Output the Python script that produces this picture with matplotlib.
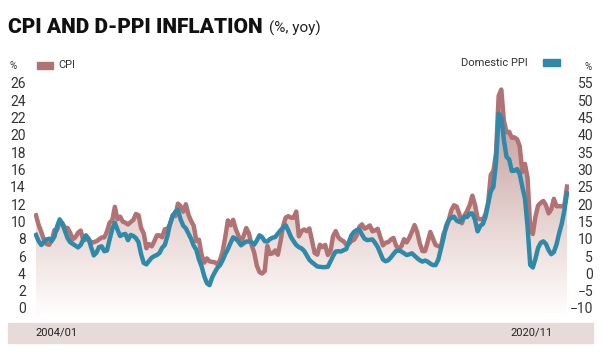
import numpy as np
import matplotlib
matplotlib.use('Agg')
import matplotlib.pyplot as plt
from matplotlib.colors import LinearSegmentedColormap
from matplotlib.patches import Rectangle

plt.rcParams['font.family'] = ['Roboto', 'DejaVu Sans']

## monthly yoy inflation, 2004/01 .. 2020/11
cpi = [10.7, 9.6, 8.8, 7.9, 7.4, 7.3, 7.8, 9.0, 9.0, 9.9, 9.8, 9.3,
       9.24, 8.69, 7.94, 8.18, 8.70, 8.95, 7.82, 7.91, 7.99, 7.52, 7.61, 7.72,
       7.93, 8.15, 8.16, 8.83, 9.86, 10.12, 11.69, 10.26, 10.55, 9.98, 9.86, 9.65,
       9.93, 10.16, 10.86, 10.72, 9.23, 8.60, 6.90, 7.39, 7.12, 7.70, 8.40, 8.39,
       8.17, 9.10, 9.15, 9.66, 10.74, 10.61, 12.06, 11.77, 11.13, 11.99, 10.76, 10.06,
       9.50, 7.73, 7.89, 6.13, 5.24, 5.73, 5.39, 5.33, 5.27, 5.08, 5.53, 6.53,
       8.19, 10.13, 9.56, 10.19, 9.10, 8.37, 7.58, 8.33, 9.24, 8.62, 7.29, 6.40,
       4.90, 4.16, 3.99, 4.26, 7.17, 6.24, 6.31, 6.65, 6.15, 7.66, 9.48, 10.45,
       10.61, 10.43, 10.43, 11.14, 8.28, 8.87, 9.07, 8.88, 9.19, 7.80, 6.37, 6.16,
       7.31, 7.03, 7.29, 6.13, 6.51, 8.30, 8.88, 8.17, 7.88, 7.71, 7.32, 7.40,
       7.75, 7.89, 8.39, 9.38, 9.66, 9.16, 9.32, 9.54, 8.86, 8.96, 9.15, 8.17,
       7.24, 7.55, 7.61, 7.91, 8.09, 7.20, 6.81, 7.14, 7.95, 7.58, 8.10, 8.81,
       9.58, 8.78, 7.46, 6.57, 6.58, 7.64, 8.79, 8.05, 7.28, 7.16, 7.00, 8.53,
       9.22, 10.13, 11.29, 11.87, 11.72, 10.90, 9.79, 10.68, 11.20, 11.90, 12.98, 11.92,
       10.35, 10.26, 10.23, 10.85, 12.15, 15.39, 15.85, 17.90, 24.52, 25.24, 21.62, 20.30,
       20.35, 19.67, 19.71, 19.50, 18.71, 15.72, 16.65, 15.01, 9.26, 8.55, 10.56, 11.84,
       12.15, 12.37, 11.86, 10.94, 11.39, 12.62, 11.76, 11.77, 11.75, 11.89, 14.03]

dppi = [11.1, 9.3, 8.2, 9.0, 9.8, 10.0, 9.4, 10.6, 13.5, 15.6, 14.4, 12.3,
        10.2, 9.0, 8.5, 8.0, 7.5, 8.2, 9.8, 11.0, 10.0, 7.5, 5.2, 6.0,
        7.6, 7.8, 6.4, 6.6, 9.8, 12.8, 14.6, 12.6, 10.8, 11.2, 11.4, 9.6,
        11.1, 10.8, 10.2, 9.0, 5.5, 3.0, 2.6, 3.6, 4.5, 5.0, 5.3, 5.9,
        7.4, 8.2, 10.8, 14.4, 16.6, 17.8, 18.3, 15.6, 13.8, 13.0, 11.5, 10.0,
        8.0, 6.8, 4.0, 2.0, -0.8, -2.8, -3.4, -1.2, 0.3, 1.6, 2.4, 3.8,
        5.6, 7.0, 8.8, 10.4, 10.0, 9.2, 8.1, 8.7, 9.2, 9.2, 9.0, 8.3,
        9.5, 11.0, 10.5, 9.3, 9.2, 9.9, 10.3, 10.5, 11.5, 12.4, 13.2, 13.9,
        12.3, 10.5, 9.3, 8.2, 7.6, 7.2, 6.5, 5.2, 3.9, 3.2, 2.6, 2.0,
        1.9, 1.8, 1.8, 1.9, 3.4, 5.0, 6.3, 6.4, 6.3, 6.7, 7.0, 9.0,
        11.0, 12.0, 12.5, 12.7, 11.2, 10.0, 9.6, 9.7, 9.8, 8.8, 7.6, 5.8,
        4.0, 3.5, 3.8, 4.6, 5.6, 6.5, 6.6, 6.3, 5.8, 5.3, 5.5, 5.8,
        5.1, 4.4, 3.8, 3.4, 3.7, 3.4, 2.8, 2.4, 2.4, 3.9, 7.0, 10.1,
        13.69, 15.36, 16.09, 16.37, 15.26, 14.87, 15.45, 16.34, 16.28, 17.28, 17.30, 15.47,
        12.14, 13.71, 14.28, 16.37, 20.16, 23.71, 25.00, 32.13, 46.15, 45.01, 38.54, 33.64,
        32.93, 29.59, 29.64, 30.12, 28.71, 25.04, 21.66, 13.45, 2.45, 1.70, 4.26, 7.36,
        8.84, 9.26, 8.50, 6.71, 5.53, 6.17, 8.33, 11.53, 14.33, 18.20, 23.11]

left_ticks = list(range(0, 27, 2))
right_ticks = list(range(-10, 56, 5))
date_labels = ['2004/01', '2020/11']

cpi_color = '#b07273'
ppi_color = '#2e8aa8'
text_color = '#333333'

W, H = 606, 360
fig = plt.figure(figsize=(W / 100, H / 100), dpi=100)

## plot area in pixels
ax = fig.add_axes([34 / W, 1 - 318 / H, (569 - 34) / W, (318 - 75) / H])
ax2 = ax.twinx()

x = np.arange(len(cpi))
cpi_arr = np.array(cpi)
ppi_arr = np.array(dppi)

lo, hi = -1.156, 26.92
ax.set_ylim(lo, hi)
ax2.set_ylim(-10 + 2.5 * lo, -10 + 2.5 * hi)
ax.set_xlim(-0.76, 202.76)

## gradient fill under both lines
top = np.maximum(cpi_arr, (ppi_arr + 10) / 2.5)
cmap = LinearSegmentedColormap.from_list('fill', [(1, 1, 1), (0.92, 0.86, 0.85), (0.82, 0.70, 0.69), (0.74, 0.58, 0.58)])
grad = np.linspace(0, 1, 256).reshape(-1, 1)
im = ax.imshow(grad, extent=[0, len(cpi) - 1, lo, hi], origin='lower', aspect='auto',
               cmap=cmap, zorder=1)
poly = ax.fill_between(x, lo, top, color='none', lw=0)
im.set_clip_path(poly.get_paths()[0], transform=ax.transData)

ax.plot(x, cpi_arr, color=cpi_color, lw=3.2, solid_joinstyle='round', zorder=3)
ax2.plot(x, ppi_arr, color=ppi_color, lw=3.2, solid_joinstyle='round', zorder=4)
ax2.patch.set_visible(False)

for a in (ax, ax2):
    for s in a.spines.values():
        s.set_visible(False)
    a.set_xticks([])
ax.set_yticks(left_ticks)
ax.tick_params(axis='y', length=0, pad=5.8, labelsize=10, labelcolor=text_color)
ax2.set_yticks(right_ticks)
ax2.tick_params(axis='y', length=0, pad=17.3, labelsize=10, labelcolor=text_color)
for lab in ax2.get_yticklabels():
    lab.set_horizontalalignment('right')

## bottom date band
fig.patches.append(Rectangle((8 / W, 1 - 343 / H), (593 - 8) / W, 20 / H,
                             transform=fig.transFigure, color='#e7dbd9', zorder=0))
fig.text(35 / W, 1 - 333 / H, date_labels[0], ha='left', va='center', fontsize=8, color='#222222')
fig.text(553 / W, 1 - 333 / H, date_labels[1], ha='right', va='center', fontsize=8, color='#222222')

## title
t = fig.text(8 / W, 1 - 33 / H, 'CPI AND D-PPI INFLATION', fontsize=15, fontweight='black',
             color='#111111', va='baseline')
fig.canvas.draw()
bb = t.get_window_extent()
fig.text(bb.x1 / W + 6 / W, 1 - 33 / H, '(%, yoy)', fontsize=11, color='#222222', va='baseline')

## legends
fig.text(10 / W, 1 - 66 / H, '%', fontsize=7, color=text_color, va='center')
fig.patches.append(Rectangle((37 / W, 1 - 69 / H), 16 / W, 7 / H, transform=fig.transFigure,
                             color=cpi_color))
fig.text(58 / W, 1 - 65 / H, 'CPI', fontsize=8, color=text_color, va='center')
fig.text(528 / W, 1 - 63 / H, 'Domestic PPI', fontsize=8, color=text_color, va='center', ha='right')
fig.patches.append(Rectangle((543 / W, 1 - 66 / H), 17 / W, 7 / H, transform=fig.transFigure,
                             color=ppi_color))
fig.text(588 / W, 1 - 67 / H, '%', fontsize=7, color=text_color, va='center', ha='center')

fig.savefig('out.png', dpi=100)
